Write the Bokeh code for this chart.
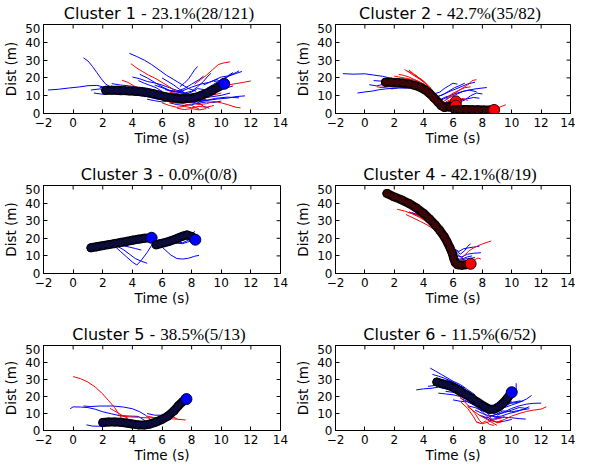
from bokeh.plotting import figure
from bokeh.models import Range1d, FixedTicker
from bokeh.layouts import column, row
from bokeh.core.properties import value
from bokeh.embed import file_html
from bokeh.resources import INLINE

# ---------------- data ----------------
X_TICKS = [-2, 0, 2, 4, 6, 8, 10, 12, 14]
Y_TICKS = [0, 10, 20, 30, 40, 50]
X_LABEL = "Time (s)"
Y_LABEL = "Dist (m)"

TITLES = ["Cluster 1", "Cluster 2", "Cluster 3", "Cluster 4", "Cluster 5", "Cluster 6"]
STATS = ["23.1%(28/121)", "42.7%(35/82)", "0.0%(0/8)", "42.1%(8/19)", "38.5%(5/13)", "11.5%(6/52)"]
CENTROID_COLORS = ["blue", "red", "blue", "red", "blue", "blue"]

C1_BLUE = [
    [(-1.7, 13.2), (-1.0, 13.6), (-0.3, 14.3), (0.4, 14.9), (1.0, 15.6), (1.6, 15.8), (2.2, 14.6), (2.8, 13.4)],
    [(0.7, 31.3), (1.0, 29.5), (1.3, 26.5), (1.6, 23.0), (1.9, 19.5), (2.2, 16.5), (2.6, 14.6), (3.2, 13.6), (4.0, 12.5)],
    [(3.8, 33.8), (4.3, 32.0), (4.8, 30.0), (5.3, 27.5), (5.8, 24.5), (6.3, 21.5), (6.8, 19.0), (7.3, 16.5), (7.8, 14.0), (8.3, 12.5)],
    [(1.4, 11.5), (2.0, 10.8), (2.6, 11.2), (3.2, 10.5), (3.8, 10.9), (4.4, 10.2), (5.0, 9.5), (5.6, 8.2), (6.2, 7.5), (6.8, 6.8), (7.4, 7.2), (8.0, 7.8)],
    [(4.5, 22.0), (5.0, 20.0), (5.5, 17.5), (6.0, 15.0), (6.5, 13.0), (7.0, 12.0), (7.5, 11.5), (8.0, 12.5), (8.4, 15.0), (8.8, 18.0), (9.1, 21.0), (9.3, 22.5)],
    [(7.2, 15.0), (7.5, 17.0), (7.8, 19.5), (8.0, 22.0), (8.2, 24.5), (8.4, 26.4)],
    [(9.0, 14.0), (9.5, 16.5), (10.0, 19.0), (10.5, 21.0), (11.0, 22.5), (11.4, 23.6)],
    [(8.5, 7.0), (9.2, 7.5), (9.8, 8.2), (10.4, 8.6), (11.0, 9.5), (11.6, 9.9)],
    [(5.5, 16.0), (6.0, 14.5), (6.5, 13.0), (7.0, 12.5), (7.5, 14.0), (8.0, 16.5), (8.5, 19.0), (8.8, 21.0)],
    [(3.0, 12.0), (3.5, 11.2), (4.0, 11.8), (4.5, 10.8), (5.0, 11.3), (5.5, 10.2), (6.0, 9.3), (6.5, 8.2), (7.0, 7.4), (7.5, 7.9), (8.0, 8.5), (8.5, 9.8), (9.0, 10.5), (9.5, 11.0)],
    [(6.0, 20.0), (6.4, 18.0), (6.8, 16.0), (7.2, 13.5), (7.6, 11.0), (8.0, 9.0), (8.4, 6.5), (8.8, 4.0), (9.2, 3.0)],
    [(4.0, 20.5), (4.5, 19.5), (5.0, 18.0), (5.5, 17.2), (6.0, 16.0), (6.5, 14.5), (7.0, 13.0), (7.5, 11.8)],
    [(9.5, 18.0), (9.9, 18.5), (10.3, 20.0), (10.6, 21.5), (11.0, 23.0), (11.2, 24.0)],
    [(2.6, 16.8), (3.2, 16.0), (3.8, 15.5), (4.4, 14.8), (5.0, 14.2), (5.6, 13.0), (6.2, 11.5), (6.8, 10.5)],
    [(7.8, 10.0), (8.3, 10.8), (8.8, 11.5), (9.3, 12.8), (9.8, 13.5), (10.3, 14.2), (10.8, 15.5)],
    [(6.5, 6.0), (7.0, 5.0), (7.5, 4.5), (8.0, 5.0), (8.5, 5.8), (9.0, 6.5), (9.5, 6.2), (10.0, 7.0)],
    [(2.4, 12.5), (3.0, 12.3), (3.6, 11.5), (4.2, 12.0), (4.8, 11.2), (5.4, 10.5), (6.0, 10.2), (6.6, 10.8), (7.2, 11.5), (7.8, 11.0)],
    [(5.0, 8.0), (5.5, 7.2), (6.0, 6.5), (6.5, 7.0), (7.0, 6.2), (7.5, 6.0), (8.0, 6.8), (8.5, 7.2), (9.0, 8.0)],
    [(8.8, 16.0), (9.2, 17.5), (9.6, 19.0), (10.0, 20.5), (10.4, 21.0), (10.8, 23.0)],
    [(7.0, 9.5), (7.5, 10.5), (8.0, 12.0), (8.4, 14.0), (8.8, 13.5), (9.2, 12.0), (9.6, 10.5)],
    [(1.2, 13.2), (1.8, 13.8), (2.4, 13.0), (3.0, 14.1), (3.6, 13.5), (4.2, 12.8)],
    [(4.4, 18.5), (4.8, 17.0), (5.2, 15.8), (5.6, 14.5), (6.0, 12.5)],
    [(2.0, 12.0), (2.8, 11.6), (3.6, 12.4), (4.4, 11.5), (5.2, 10.8), (6.0, 9.0), (6.8, 7.6), (7.6, 7.0), (8.4, 8.2), (9.2, 9.2), (10.0, 10.2), (10.6, 11.5)],
    [(1.8, 14.5), (2.6, 14.8), (3.4, 14.2), (4.2, 14.0), (5.0, 13.0), (5.8, 12.0), (6.6, 10.5), (7.4, 10.2), (8.2, 11.0), (9.0, 13.0), (9.8, 15.5), (10.5, 18.0)],
    [(6.2, 13.5), (6.8, 12.0), (7.4, 12.8), (8.0, 14.8), (8.6, 16.5), (9.2, 17.5), (9.8, 19.5)],
    [(4.8, 9.5), (5.6, 9.8), (6.4, 8.5), (7.2, 6.5), (8.0, 6.0), (8.8, 7.0), (9.6, 8.5), (10.4, 9.2), (11.2, 8.8)],
]
C1_RED = [
    [(3.9, 28.0), (4.3, 25.5), (4.7, 23.5), (5.1, 21.5), (5.5, 20.0), (6.0, 17.5), (6.5, 15.0), (7.0, 12.0)],
    [(8.2, 16.5), (8.6, 19.0), (9.0, 21.5), (9.4, 24.5), (9.8, 27.5), (10.2, 28.5), (10.6, 29.0)],
    [(8.8, 12.0), (9.3, 13.5), (9.8, 15.0), (10.4, 16.0), (11.0, 16.8), (11.5, 17.5), (12.0, 18.3)],
    [(6.0, 6.0), (6.5, 4.5), (7.0, 3.5), (7.5, 4.0), (8.0, 3.2), (8.5, 4.0), (9.0, 3.5), (9.5, 4.5)],
    [(7.5, 7.0), (8.0, 6.0), (8.5, 5.0), (9.0, 5.5), (9.5, 6.8), (10.0, 6.0), (10.5, 4.8), (11.0, 3.5), (11.3, 3.2)],
    [(3.3, 18.7), (3.7, 17.5), (4.1, 15.5), (4.5, 14.0), (5.0, 12.5), (5.5, 11.0)],
    [(5.5, 9.0), (6.0, 7.8), (6.5, 6.5), (7.0, 5.8), (7.5, 5.5), (8.0, 4.5), (8.5, 2.5)],
    [(7.0, 3.0), (7.5, 2.2), (8.0, 2.8), (8.5, 2.0), (9.0, 2.8)],
    [(6.5, 12.0), (7.0, 11.0), (7.5, 9.5), (8.0, 8.0), (8.5, 7.5), (9.0, 9.0), (9.5, 10.5), (10.0, 11.5)],
]
C1_CENTROIDS = [
    [(2.2, 13.0), (2.6, 13.1), (3.0, 13.0), (3.4, 12.9), (3.8, 12.7), (4.2, 12.5), (4.6, 12.2), (5.0, 11.7),
     (5.4, 11.1), (5.8, 10.3), (6.2, 9.5), (6.6, 8.9), (7.0, 8.5), (7.4, 8.3), (7.8, 8.5), (8.2, 9.0),
     (8.6, 10.0), (9.0, 11.4), (9.4, 13.0), (9.8, 14.8), (10.2, 16.7)],
]

C2_BLUE = [
    [(-1.5, 22.4), (-0.8, 22.1), (0.0, 22.3), (0.6, 21.6), (1.2, 20.9), (1.8, 19.8), (2.4, 18.5)],
    [(-0.5, 11.5), (0.0, 12.1), (0.5, 12.6), (1.0, 13.4), (1.5, 13.9), (2.0, 14.2), (2.6, 14.5), (3.2, 14.6)],
    [(0.3, 16.2), (0.8, 15.5), (1.3, 16.5), (1.8, 15.8), (2.3, 16.2), (2.8, 15.5), (3.4, 14.8), (4.0, 13.2)],
    [(0.6, 18.5), (1.1, 18.2), (1.6, 17.1), (2.2, 17.5), (2.8, 16.9), (3.4, 16.1), (4.0, 14.5), (4.5, 11.5)],
    [(1.0, 14.5), (1.5, 15.2), (2.0, 14.8), (2.5, 15.6), (3.0, 15.1), (3.5, 14.2)],
    [(4.6, 8.5), (5.0, 9.5), (5.4, 11.0), (5.8, 12.5), (6.2, 13.8), (6.6, 15.2), (7.0, 16.6), (7.5, 17.6)],
    [(4.8, 6.0), (5.2, 7.5), (5.6, 9.2), (6.0, 10.8), (6.5, 12.0), (7.0, 13.0), (7.5, 13.8), (8.3, 14.6)],
    [(4.9, 9.5), (5.3, 10.5), (5.7, 12.5), (6.1, 14.5), (6.4, 15.5), (6.8, 17.0)],
    [(5.0, 5.0), (5.4, 6.0), (5.8, 6.5), (6.2, 7.0), (6.6, 7.8), (7.0, 8.3), (7.4, 9.0), (7.8, 8.6)],
    [(4.7, 11.0), (5.1, 12.0), (5.4, 14.0), (5.7, 15.5), (6.0, 17.0), (6.3, 16.5)],
    [(5.2, 4.0), (5.6, 5.0), (6.0, 5.5), (6.4, 6.5), (6.8, 7.5), (7.2, 10.0), (7.6, 11.5), (8.0, 11.0)],
    [(3.6, 15.0), (4.0, 13.5), (4.4, 11.5), (4.8, 9.0), (5.1, 7.5), (5.4, 9.0), (5.8, 10.0)],
    [(5.5, 8.0), (5.9, 9.5), (6.3, 11.0), (6.7, 12.5), (7.1, 13.2), (7.6, 12.2)],
    [(1.8, 13.8), (2.3, 14.5), (2.8, 14.2), (3.3, 14.9), (3.8, 13.8), (4.3, 12.0)],
]
C2_RED = [
    [(2.3, 22.0), (2.6, 21.5), (3.0, 20.5), (3.4, 19.0), (3.8, 17.5), (4.2, 15.5)],
    [(2.7, 24.7), (3.0, 23.2), (3.3, 21.5), (3.7, 19.5), (4.1, 17.0), (4.5, 14.0)],
    [(2.9, 23.8), (3.2, 22.8), (3.5, 21.0), (3.9, 18.5), (4.3, 15.5)],
    [(3.0, 24.5), (3.3, 22.3), (3.6, 20.3), (4.0, 18.0), (4.4, 15.0), (4.8, 11.0)],
    [(2.0, 21.0), (2.5, 20.2), (3.0, 19.5), (3.5, 18.5), (4.0, 16.5), (4.5, 13.5)],
    [(1.8, 16.5), (2.3, 16.2), (2.8, 16.5), (3.3, 16.0), (3.8, 14.8), (4.3, 12.5), (4.7, 9.5), (5.0, 6.5), (5.3, 4.0)],
    [(1.5, 18.0), (2.0, 18.5), (2.5, 18.0), (3.0, 17.5), (3.5, 16.5)],
    [(5.2, 6.0), (5.6, 8.0), (6.0, 10.5), (6.5, 13.5), (7.0, 16.0), (7.3, 18.5), (7.6, 19.0)],
    [(5.6, 9.0), (6.0, 11.5), (6.4, 13.0), (6.8, 14.5), (7.2, 15.0)],
    [(8.5, 2.2), (8.8, 2.6), (9.1, 3.3), (9.4, 4.3), (9.6, 4.9)],
    [(5.0, 4.0), (5.4, 3.5), (5.8, 4.0), (6.2, 3.2), (6.6, 2.5)],
    [(5.5, 6.5), (5.9, 8.0), (6.3, 7.5), (6.7, 8.5), (7.0, 7.2)],
    [(0.8, 15.0), (1.3, 14.6), (1.8, 15.2), (2.4, 15.8), (3.0, 15.2)],
    [(3.4, 22.0), (3.6, 20.5), (3.9, 19.0), (4.2, 16.5)],
]
C2_CENTROIDS = [
    [(1.4, 17.6), (1.8, 17.6), (2.2, 17.4), (2.6, 17.1), (3.0, 16.6), (3.4, 15.8), (3.8, 14.6), (4.1, 13.2),
     (4.4, 11.3), (4.7, 8.8), (5.0, 6.2), (5.2, 4.4), (5.4, 3.4), (5.7, 3.8), (6.0, 5.2), (6.2, 6.8)],
    [(5.8, 3.6), (6.0, 4.0), (6.2, 4.4)],
    [(6.1, 2.2), (6.5, 2.2), (6.9, 2.2), (7.3, 2.1), (7.7, 2.1), (8.1, 2.0), (8.5, 2.0), (8.8, 2.0)],
]

C3_BLUE = [
    [(2.85, 15.2), (3.2, 12.5), (3.6, 9.5), (4.0, 6.5), (4.3, 4.8), (4.6, 7.5), (5.0, 12.0), (5.3, 16.0), (5.5, 19.0)],
    [(3.0, 15.5), (3.4, 13.5), (3.8, 11.0), (4.2, 8.5), (4.6, 7.0), (5.0, 5.8)],
    [(3.4, 15.8), (3.8, 15.0), (4.2, 14.2), (4.6, 13.3)],
    [(5.8, 16.5), (6.2, 13.5), (6.6, 10.5), (7.0, 8.5), (7.4, 8.2), (7.8, 8.7), (8.2, 9.8), (8.5, 10.3)],
    [(7.0, 18.0), (7.4, 17.5), (7.8, 19.0), (8.0, 21.5), (8.2, 24.0)],
    [(1.2, 14.0), (2.0, 15.5), (3.0, 16.5), (4.0, 18.5), (5.0, 19.5)],
    [(6.5, 18.5), (7.0, 17.2), (7.4, 17.0), (7.7, 17.8), (8.0, 18.6)],
    [(5.6, 17.0), (6.0, 18.0), (6.5, 19.5), (7.0, 20.5), (7.5, 22.5)],
]
C3_RED = []
C3_CENTROIDS = [
    [(1.2, 14.6), (1.6, 15.2), (2.0, 15.8), (2.4, 16.4), (2.8, 17.0), (3.2, 17.6), (3.6, 18.2), (4.0, 18.9),
     (4.4, 19.5), (4.8, 20.0), (5.3, 20.3)],
    [(5.6, 16.3), (5.9, 17.0), (6.2, 17.6), (6.5, 18.3), (6.8, 19.2), (7.1, 20.2), (7.4, 21.2), (7.7, 21.9),
     (8.0, 21.0), (8.25, 19.2)],
]

C4_BLUE = [
    [(3.0, 35.0), (3.4, 33.8), (3.8, 32.5), (4.2, 30.5)],
    [(5.9, 15.5), (6.2, 13.0), (6.5, 11.0), (6.8, 13.0), (7.0, 15.5), (7.2, 16.8)],
    [(6.0, 12.0), (6.3, 10.0), (6.6, 9.5), (7.0, 11.0), (7.4, 11.5), (7.9, 11.8)],
    [(6.1, 14.0), (6.4, 12.5), (6.7, 14.0), (7.0, 14.5), (7.4, 15.0), (7.8, 15.5)],
    [(6.0, 9.0), (6.3, 8.0), (6.7, 8.5), (7.0, 9.5), (7.3, 10.0)],
    [(5.8, 16.5), (6.1, 13.5), (6.3, 11.0), (6.5, 9.5), (6.7, 8.0)],
    [(3.2, 34.5), (3.6, 33.5), (4.0, 32.5)],
    [(6.2, 7.0), (6.6, 7.8), (7.0, 8.5), (7.5, 9.0)],
]
C4_RED = [
    [(2.2, 36.5), (2.7, 35.5), (3.2, 34.0), (3.7, 32.0), (4.2, 29.5), (4.7, 26.0), (5.1, 22.5), (5.5, 18.0), (5.8, 13.5), (6.0, 9.5)],
    [(2.8, 33.5), (3.3, 31.5), (3.8, 29.5), (4.3, 27.3), (4.8, 24.5)],
    [(6.5, 8.0), (6.8, 10.5), (7.1, 13.0), (7.5, 15.0), (8.0, 16.8), (8.6, 18.5)],
    [(6.6, 6.0), (7.0, 7.0), (7.4, 7.5), (7.7, 8.8), (7.9, 8.2)],
    [(5.7, 13.0), (5.9, 10.0), (6.1, 7.5), (6.4, 6.5), (6.8, 7.5)],
    [(3.0, 34.8), (3.5, 33.2), (4.0, 31.0), (4.5, 28.0)],
    [(5.2, 21.0), (5.5, 17.0), (5.7, 14.0), (5.9, 10.5)],
    [(6.3, 6.5), (6.7, 5.2), (7.1, 5.6)],
]
C4_CENTROIDS = [
    [(1.5, 45.5), (2.0, 43.5), (2.5, 41.8), (3.0, 39.8), (3.5, 37.3), (4.0, 34.2), (4.4, 31.0), (4.8, 27.5),
     (5.1, 24.5), (5.4, 21.0), (5.6, 18.0), (5.8, 14.5), (5.95, 11.5), (6.05, 8.5), (6.15, 6.2), (6.3, 5.0),
     (6.6, 4.7), (6.9, 5.0), (7.2, 5.5)],
]

C5_BLUE = [
    [(-0.2, 12.8), (0.0, 13.9), (0.5, 13.8), (1.0, 13.5), (1.5, 12.5), (2.0, 11.0), (2.6, 9.8), (3.1, 8.8), (3.8, 8.5), (4.4, 8.3), (4.9, 5.5)],
    [(0.7, 14.4), (1.2, 14.1), (1.8, 14.4), (2.7, 14.4), (3.4, 13.8), (4.0, 12.8), (4.5, 11.0), (4.9, 8.9), (5.2, 6.5)],
    [(0.9, 3.3), (1.3, 2.6), (1.8, 2.5), (2.2, 2.8)],
    [(2.0, 5.0), (2.6, 4.5), (3.2, 4.0), (3.8, 3.5), (4.4, 3.0)],
    [(6.0, 6.0), (6.4, 9.0), (6.8, 12.0), (7.2, 15.5), (7.6, 19.0)],
    [(2.4, 6.0), (3.0, 6.2), (3.6, 5.5), (4.2, 4.8), (4.8, 4.2), (5.4, 5.2)],
    [(5.0, 10.0), (5.5, 9.0), (6.0, 9.0)],
    [(7.3, 18.0), (7.6, 19.5), (7.8, 20.0)],
]
C5_RED = [
    [(0.0, 31.7), (0.5, 30.5), (1.0, 28.5), (1.5, 25.5), (2.0, 21.5), (2.4, 17.5), (2.8, 13.5), (3.2, 8.0), (3.5, 4.5), (3.8, 2.2)],
    [(3.2, 8.5), (3.8, 8.0), (4.4, 7.8), (5.0, 7.4), (5.6, 7.6), (6.2, 7.0), (6.8, 6.8), (7.6, 6.2)],
    [(2.5, 13.0), (2.8, 11.5), (3.1, 10.0), (3.4, 8.5), (3.7, 7.2)],
    [(5.0, 8.5), (5.5, 7.5), (6.0, 7.2), (6.6, 8.5), (7.0, 7.0)],
    [(3.6, 3.0), (4.0, 2.2), (4.4, 2.8)],
]
C5_CENTROIDS = [
    [(2.0, 4.7), (2.4, 5.0), (2.8, 5.0), (3.2, 4.8), (3.6, 4.4), (4.0, 3.8), (4.4, 3.3), (4.8, 3.2),
     (5.2, 3.8), (5.6, 5.0), (6.0, 6.5), (6.4, 8.5), (6.8, 11.5), (7.1, 14.5), (7.4, 17.0), (7.65, 18.5)],
]

C6_BLUE = [
    [(3.5, 23.9), (4.0, 24.5), (4.5, 24.8), (5.0, 25.5), (5.5, 24.5), (6.0, 23.5)],
    [(4.45, 36.7), (4.8, 35.0), (5.2, 33.0), (5.6, 31.0), (6.0, 29.0), (6.5, 27.0), (7.0, 24.0), (7.5, 21.0)],
    [(4.6, 33.0), (5.0, 32.0), (5.5, 30.5), (6.0, 28.5), (6.5, 26.0), (7.0, 23.0), (7.5, 19.5), (8.0, 16.0)],
    [(5.0, 22.0), (5.5, 21.5), (6.0, 21.0), (6.5, 20.0), (7.0, 18.5), (7.5, 16.0), (8.0, 13.5), (8.5, 11.0)],
    [(4.3, 26.0), (4.8, 26.5), (5.3, 25.0), (5.8, 24.2), (6.3, 22.0), (6.8, 20.5)],
    [(6.0, 18.0), (6.5, 17.2), (7.0, 16.8), (7.5, 15.0), (8.0, 12.5), (8.5, 9.0), (9.0, 7.5), (9.5, 8.0)],
    [(8.5, 12.0), (9.0, 14.0), (9.5, 17.0), (10.0, 20.0), (10.3, 24.0), (10.3, 27.8)],
    [(9.0, 11.0), (9.5, 13.5), (10.0, 15.0), (10.5, 16.5), (11.0, 18.5), (11.35, 20.6)],
    [(9.0, 9.0), (9.5, 11.0), (10.0, 13.0), (10.5, 14.5), (11.0, 15.5), (11.5, 16.0), (12.0, 16.1)],
    [(8.8, 8.0), (9.3, 8.5), (9.8, 10.0), (10.3, 11.0), (10.8, 12.5), (11.2, 14.0)],
    [(8.5, 6.5), (9.0, 7.0), (9.5, 7.8), (10.0, 7.5), (10.5, 7.0), (10.95, 6.7)],
    [(7.5, 12.0), (8.0, 10.0), (8.5, 8.5), (9.0, 9.5), (9.5, 10.5), (10.0, 12.0), (10.5, 13.5), (11.0, 13.0)],
    [(8.8, 15.0), (9.2, 17.0), (9.6, 19.5), (9.9, 22.0), (10.2, 25.0)],
    [(5.5, 30.0), (6.0, 28.0), (6.5, 25.5), (7.0, 22.0), (7.5, 18.0), (8.0, 14.5), (8.5, 12.5)],
    [(5.5, 23.0), (6.0, 22.5), (6.5, 21.5), (7.0, 20.0), (7.5, 17.8)],
    [(4.8, 28.0), (5.3, 29.5), (5.8, 28.5), (6.3, 27.0), (6.8, 25.0)],
    [(7.0, 14.5), (7.5, 13.5), (8.0, 11.5), (8.5, 10.0), (9.0, 12.0), (9.5, 14.0), (10.0, 16.5), (10.6, 17.5)],
    [(9.4, 15.0), (9.9, 16.0), (10.4, 16.5), (10.8, 17.5)],
    [(8.0, 8.5), (8.5, 6.0), (9.0, 5.0), (9.5, 5.5), (10.0, 6.5)],
    [(6.5, 19.0), (7.0, 17.0), (7.5, 14.5), (8.0, 11.0), (8.4, 7.5), (8.8, 5.5)],
    [(5.2, 26.5), (5.8, 25.5), (6.4, 24.8), (7.0, 22.5), (7.6, 19.5), (8.2, 15.5), (8.8, 13.5), (9.4, 14.5), (10.0, 17.0)],
    [(7.8, 9.0), (8.3, 7.5), (8.8, 9.0), (9.4, 11.5), (10.0, 11.0), (10.6, 12.0), (11.2, 12.8)],
]
C6_RED = [
    [(5.0, 30.0), (5.5, 27.0), (6.0, 23.5), (6.5, 19.5), (7.0, 15.0), (7.5, 10.0), (7.8, 6.0), (8.0, 4.0), (8.4, 5.0), (8.9, 6.5), (9.5, 8.0)],
    [(9.0, 5.0), (9.5, 6.5), (10.0, 8.5), (10.5, 10.0), (11.0, 11.2), (11.5, 12.0), (12.0, 12.6), (12.35, 13.9)],
    [(7.0, 14.0), (7.4, 11.5), (7.8, 9.0), (8.2, 7.0), (8.6, 5.0), (9.0, 3.0)],
    [(7.6, 5.0), (7.9, 4.0), (8.2, 5.5), (8.5, 3.5), (8.8, 3.0)],
    [(6.5, 17.0), (7.0, 13.0), (7.4, 8.0), (7.6, 5.0), (7.8, 4.5)],
    [(8.4, 9.0), (8.7, 6.0), (9.0, 4.5), (9.3, 5.0)],
]
C6_CENTROIDS = [
    [(4.9, 28.5), (5.3, 27.5), (5.7, 26.5), (6.1, 25.0), (6.5, 23.0), (6.9, 21.0), (7.3, 18.8), (7.7, 16.5),
     (8.1, 14.2), (8.5, 12.5), (8.8, 12.5), (9.1, 13.8), (9.4, 16.0), (9.7, 19.0), (10.0, 22.5)],
]

BLUES = [C1_BLUE, C2_BLUE, C3_BLUE, C4_BLUE, C5_BLUE, C6_BLUE]
REDS = [C1_RED, C2_RED, C3_RED, C4_RED, C5_RED, C6_RED]
CENTROIDS = [C1_CENTROIDS, C2_CENTROIDS, C3_CENTROIDS, C4_CENTROIDS, C5_CENTROIDS, C6_CENTROIDS]

# ---------------- styling / layout ----------------
LINE_COLORS = {"blue": "#0000ff", "red": "#ff0000"}
BAND_EDGE = {"blue": "#000000", "red": "#100000"}
BAND_CORE = {"blue": "#0c0c3c", "red": "#3c0606"}
SANS = "DejaVu Sans"
SERIF = "Liberation Serif"
TITLE_SANS_PX = 16
TITLE_SERIF_PX = 17

SANS_W = {"C": 0.698, "l": 0.278, "u": 0.634, "s": 0.521, "t": 0.392, "e": 0.615, "r": 0.411,
          " ": 0.318, "-": 0.361}
SERIF_W = {".": 0.25, "%": 0.833, "(": 0.333, ")": 0.333, "/": 0.278}


def width_sans(s):
    return sum(SANS_W.get(ch, 0.636) for ch in s) * TITLE_SANS_PX


def width_serif(s):
    return sum(SERIF_W.get(ch, 0.5) for ch in s) * TITLE_SERIF_PX


COL_W = [292, 283]
COL_RIGHT = [12, 5]
LEFT = 37
TITLE_H = [23, 21, 21]        # title strip above each row
FRAME_H = [89, 88, 87]
ROW_TOP = 1
ROW_BOTTOM = [50, 50, 33]
TITLE_BASE = 10               # title anchor height inside the strip
TICK_PX = 4


def make_title(i):
    r, c = divmod(i, 2)
    frame_w = COL_W[c] - LEFT - COL_RIGHT[c]
    h = TITLE_H[r]
    t = figure(width=COL_W[c], height=h, output_backend="svg", toolbar_location=None,
               x_range=Range1d(-2, 14), y_range=Range1d(0, h),
               min_border_left=LEFT, min_border_right=COL_RIGHT[c], min_border_top=0, min_border_bottom=0,
               x_axis_type=None, y_axis_type=None)
    t.outline_line_color = None
    t.xgrid.visible = False
    t.ygrid.visible = False
    t.background_fill_color = "white"
    t.border_fill_color = "white"
    sans_txt = TITLES[i] + " -"
    serif_txt = STATS[i]
    ws = width_sans(sans_txt + " ")
    wr = width_serif(serif_txt)
    px_per_unit = frame_w / 16.0
    anchor = 6 + (ws - wr) / 2 / px_per_unit
    gap = SANS_W[" "] * TITLE_SANS_PX / px_per_unit
    t.text(x=[anchor - gap], y=[TITLE_BASE], text=[sans_txt], text_align="right", text_baseline="alphabetic",
           text_font=value(SANS), text_font_size=f"{TITLE_SANS_PX}px", text_color="black")
    t.text(x=[anchor], y=[TITLE_BASE], text=[serif_txt], text_align="left", text_baseline="alphabetic",
           text_font=value(SERIF), text_font_size=f"{TITLE_SERIF_PX}px", text_color="black")
    return t


def make_panel(i):
    r, c = divmod(i, 2)
    height = ROW_TOP + FRAME_H[r] + ROW_BOTTOM[r]
    p = figure(width=COL_W[c], height=height, output_backend="svg", toolbar_location=None,
               x_range=Range1d(-2, 14), y_range=Range1d(0, 50),
               min_border_left=LEFT, min_border_right=COL_RIGHT[c],
               min_border_top=ROW_TOP, min_border_bottom=ROW_BOTTOM[r],
               x_axis_label=X_LABEL, y_axis_label=Y_LABEL)
    p.xgrid.visible = False
    p.ygrid.visible = False
    p.outline_line_color = "black"
    p.outline_line_width = 1
    p.background_fill_color = "white"
    p.border_fill_color = "white"

    for ax, ticks in [(p.xaxis[0], X_TICKS), (p.yaxis[0], Y_TICKS)]:
        ax.ticker = FixedTicker(ticks=ticks)
        ax.major_tick_in = TICK_PX
        ax.major_tick_out = 0
        ax.minor_tick_in = 0
        ax.minor_tick_out = 0
        ax.axis_line_color = "black"
        ax.major_tick_line_color = "black"
        ax.major_label_text_font = SANS
        ax.major_label_text_font_size = "12px"
        ax.major_label_text_color = "black"
        ax.axis_label_text_font = SANS
        ax.axis_label_text_font_size = "13.5px"
        ax.axis_label_text_font_style = "normal"
        ax.axis_label_text_color = "black"
    p.xaxis[0].major_label_standoff = 4
    p.xaxis[0].axis_label_standoff = 0
    p.xaxis[0].major_label_overrides = {-2: "\u22122"}
    p.yaxis[0].major_label_standoff = 3
    p.yaxis[0].axis_label_standoff = 3

    # ticks on the top and right edges (pointing inwards)
    frame_w = COL_W[c] - LEFT - COL_RIGHT[c]
    dy = TICK_PX * 50.0 / FRAME_H[r]
    dx = TICK_PX * 16.0 / frame_w
    p.segment(x0=X_TICKS, y0=[50] * len(X_TICKS), x1=X_TICKS, y1=[50 - dy] * len(X_TICKS),
              line_color="black", line_width=1)
    p.segment(x0=[14] * len(Y_TICKS), y0=Y_TICKS, x1=[14 - dx] * len(Y_TICKS), y1=Y_TICKS,
              line_color="black", line_width=1)

    for lines, col in [(BLUES[i], "blue"), (REDS[i], "red")]:
        if lines:
            xs = [[pt[0] for pt in ln] for ln in lines]
            ys = [[pt[1] for pt in ln] for ln in lines]
            p.multi_line(xs, ys, line_color=LINE_COLORS[col], line_width=1)

    cc = CENTROID_COLORS[i]
    for seg in CENTROIDS[i]:
        xs = [pt[0] for pt in seg]
        ys = [pt[1] for pt in seg]
        p.line(xs, ys, line_color=BAND_EDGE[cc], line_width=9, line_cap="round", line_join="round")
        p.scatter(xs[:-1], ys[:-1], size=8, fill_color=BAND_CORE[cc], line_color="black", line_width=1)
        p.line(xs, ys, line_color=BAND_CORE[cc], line_width=4, line_cap="round", line_join="round")
        p.scatter(xs[-1:], ys[-1:], size=11, fill_color=LINE_COLORS[cc],
                  line_color="#000033" if cc == "blue" else "#330000", line_width=1)
    return p


titles = [make_title(i) for i in range(6)]
panels = [make_panel(i) for i in range(6)]
rows = []
for r in range(3):
    rows.append(row(titles[2 * r], titles[2 * r + 1], spacing=0))
    rows.append(row(panels[2 * r], panels[2 * r + 1], spacing=0))
layout = column(*rows, spacing=0)

open("out.html", "w").write(file_html(layout, INLINE))
